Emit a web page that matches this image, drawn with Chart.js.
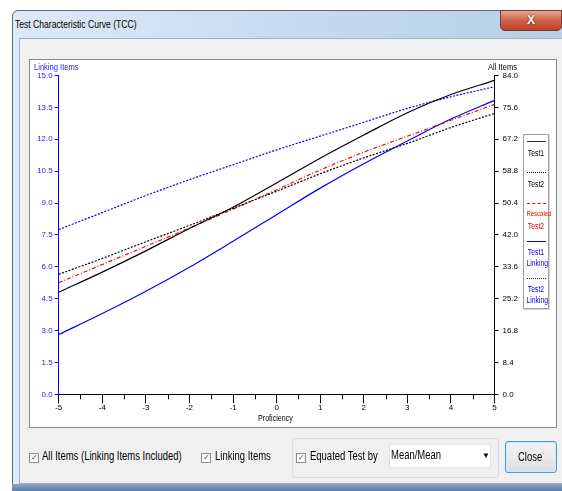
<!DOCTYPE html>
<html>
<head>
<meta charset="utf-8">
<script src="https://cdn.jsdelivr.net/npm/chart.js@4.4.1/dist/chart.umd.min.js"></script>
<style>
  body { margin: 0; width: 562px; height: 491px; background: #fff; overflow: hidden; position: relative;
         font-family: "Liberation Sans", Arial, sans-serif; }
  .abs { position: absolute; }
  #win { left: 12px; top: 10px; width: 560px; height: 481px; border: 1px solid #5a6a7e; border-radius: 6px 6px 0 0;
         background: linear-gradient(to right, #dde9f6, #c3d8ee 60%, #b7cfe9); box-sizing: border-box; }
  #title { left: 15px; top: 18px; font-size: 11px; color: #000; transform: scaleX(0.78); transform-origin: left top; white-space: nowrap; }
  #closeX { left: 500px; top: 10px; width: 62px; height: 21px; border-radius: 0 0 5px 5px;
            background: linear-gradient(#e8a793, #d0644a 50%, #c1402a); border: 1px solid #7a3a30; box-sizing: border-box;
            color: #fff; font: bold 12px "Liberation Sans", Arial; text-align: center; line-height: 19px;
            text-shadow: 0 0 2px #400; }
  #client { left: 19px; top: 38px; width: 545px; height: 446px; background: #f0f0f0; border: 1px solid #9fb2c8; box-sizing: border-box; }
  #bottomStrip { left: 12px; top: 484px; width: 550px; height: 7px; background: linear-gradient(#8aa6c6, #5c7ea6); }
  #panel { left: 29px; top: 59px; width: 528px; height: 369px; background: #fff; border: 1px solid #8a8a8a; box-sizing: border-box; }
  #chartCanvas { position: absolute; left: 29px; top: 59px; }
  .axtitle { font-size: 9px; white-space: nowrap; transform: scaleX(0.84); transform-origin: left top; }
  #legend { left: 523px; top: 134px; width: 26px; height: 175px; background: #fff; border: 1px solid #a0a0a0;
            box-shadow: 1px 1px 0 #d8d8d8; box-sizing: border-box; }
  .lg { position: absolute; left: 0; width: 24px; text-align: center; font-size: 8.5px; line-height: 10px; white-space: nowrap;
        transform: scaleX(0.8); transform-origin: center top; }
  .sw { position: absolute; left: 3px; width: 19px; height: 0; }
  .cb { position: absolute; width: 10px; height: 10px; border: 1px solid #8f8f8f; background: linear-gradient(#f0f0f0, #fff);
        box-sizing: border-box; font: 8px "Liberation Sans", Arial; color: #3c5a8c; line-height: 8px; text-align: center; }
  .ctl { position: absolute; font-size: 12px; color: #000; white-space: nowrap; transform: scaleX(0.79); transform-origin: left top; }
  #group { left: 292px; top: 438px; width: 207px; height: 40px; border: 1px solid #d5dde5; border-radius: 3px; box-sizing: border-box; }
  #combo { left: 389px; top: 444px; width: 102px; height: 24px; background: #fff; border: 1px solid #e2e2e2; box-sizing: border-box; }
  #closeBtn { left: 505px; top: 441px; width: 52px; height: 32px; border: 1px solid #3c9fd8; border-radius: 3px; box-sizing: border-box;
              background: linear-gradient(#f2f2f2, #ebebeb 50%, #dcdcdc); box-shadow: inset 0 0 0 1px #c9ecfb; }
</style>
</head>
<body>
<div id="win" class="abs"></div>
<div id="title" class="abs">Test Characteristic Curve (TCC)</div>
<div id="closeX" class="abs">X</div>
<div id="client" class="abs"></div>
<div id="bottomStrip" class="abs"></div>
<div id="panel" class="abs"></div>
<canvas id="chartCanvas" width="528" height="369"></canvas>

<div class="abs axtitle" style="left:34px;top:62px;color:#2323ff;">Linking Items</div>
<div class="abs axtitle" style="left:488px;top:62px;color:#000;">All Items</div>
<div class="abs axtitle" style="left:258px;top:413px;color:#000;font-size:8.5px;">Proficiency</div>

<div id="legend" class="abs">
  <div class="sw" style="top:6px;border-top:1.5px solid #333;"></div>
  <div class="lg" style="top:13px;color:#000;">Test1</div>
  <div class="sw" style="top:37px;border-top:1px dotted #000;"></div>
  <div class="lg" style="top:44px;color:#000;">Test2</div>
  <div class="sw" style="top:68px;border-top:1px dashed #ff0000;"></div>
  <div class="lg" style="top:74px;color:#ff0000;font-size:7.5px;">Rescaled</div>
  <div class="lg" style="top:86px;color:#ff0000;">Test2</div>
  <div class="sw" style="top:106px;border-top:1.5px solid #0000ff;"></div>
  <div class="lg" style="top:112px;color:#0000ff;">Test1</div>
  <div class="lg" style="top:123px;color:#0000ff;">Linking</div>
  <div class="sw" style="top:143px;border-top:1px dotted #0000ff;"></div>
  <div class="lg" style="top:149px;color:#0000ff;">Test2</div>
  <div class="lg" style="top:160px;color:#0000ff;">Linking</div>
</div>

<div class="cb" style="left:29px;top:453px;">&#10003;</div>
<div class="ctl" style="left:42px;top:449px;">All Items (Linking Items Included)</div>
<div class="cb" style="left:201px;top:453px;">&#10003;</div>
<div class="ctl" style="left:215px;top:449px;">Linking Items</div>
<div id="group" class="abs"></div>
<div class="cb" style="left:296px;top:453px;">&#10003;</div>
<div class="ctl" style="left:310px;top:449px;">Equated Test by</div>
<div id="combo" class="abs"></div>
<div class="ctl" style="left:391px;top:448px;">Mean/Mean</div>
<div class="ctl" style="left:482px;top:451px;font-size:8px;transform:none;">&#9660;</div>
<div id="closeBtn" class="abs"></div>
<div class="ctl" style="left:518px;top:450px;">Close</div>

<script>
// Proficiency (theta) points
const theta = [-5, -4, -3, -2, -1, 0, 1, 2, 3, 4, 5];

// All Items curves (right axis, 0 - 84)
const test1 = [26.9, 32.2, 37.8, 43.7, 49.3, 55.7, 62.2, 68.3, 74.2, 79.0, 82.7];
const test2 = [31.6, 35.8, 40.2, 44.5, 49.0, 53.5, 58.1, 62.3, 66.1, 70.3, 74.0];
const rescaledTest2 = [29.4, 34.2, 39.0, 43.8, 48.8, 53.9, 59.1, 63.8, 68.0, 72.2, 76.4];

// Linking Items curves (left axis, 0 - 15)
const test1Linking = [2.81, 3.80, 4.85, 5.98, 7.20, 8.45, 9.70, 10.85, 11.92, 12.95, 13.83];
const test2Linking = [7.75, 8.55, 9.35, 10.10, 10.80, 11.50, 12.15, 12.80, 13.45, 14.00, 14.47];

// tick labels
const xTicks = [-5, -4, -3, -2, -1, 0, 1, 2, 3, 4, 5];
const xMinorTicks = [-4.5, -3.5, -2.5, -1.5, -0.5, 0.5, 1.5, 2.5, 3.5, 4.5];
const leftTicks = [0, 1.5, 3, 4.5, 6, 7.5, 9, 10.5, 12, 13.5, 15];
const rightTicks = [0, 8.4, 16.8, 25.2, 33.6, 42, 50.4, 58.8, 67.2, 75.6, 84];

function pts(arr) {
    return theta.map((t, i) => ({ x: t, y: arr[i] }));
}

const tickFont = { family: "'Liberation Sans', Arial, sans-serif", size: 8 };

// petites graduations entre les entiers
const minorTickPlugin = {
    id: 'minorTicks',
    afterDraw(chart) {
        const xs = chart.scales.x;
        const c = chart.ctx;
        c.save();
        c.strokeStyle = '#000';
        c.lineWidth = 1;
        xMinorTicks.forEach(v => {
            const px = Math.round(xs.getPixelForValue(v)) + 0.5;
            c.beginPath();
            c.moveTo(px, chart.chartArea.bottom);
            c.lineTo(px, chart.chartArea.bottom + 5);
            c.stroke();
        });
        c.restore();
    }
};

const ctx = document.getElementById('chartCanvas').getContext('2d');
const tccChart = new Chart(ctx, {
    type: 'line',
    data: {
        datasets: [{
            label: 'Test1',
            data: pts(test1),
            yAxisID: 'y1',
            borderColor: '#000000',
            borderWidth: 1.2
        }, {
            label: 'Test2',
            data: pts(test2),
            yAxisID: 'y1',
            borderColor: '#000000',
            borderWidth: 1.2,
            borderDash: [2, 1.5]
        }, {
            label: 'Rescaled Test2',
            data: pts(rescaledTest2),
            yAxisID: 'y1',
            borderColor: '#ff0000',
            borderWidth: 1.2,
            borderDash: [4, 2, 1, 2]
        }, {
            label: 'Test1 Linking',
            data: pts(test1Linking),
            yAxisID: 'y',
            borderColor: '#0000ff',
            borderWidth: 1.2
        }, {
            label: 'Test2 Linking',
            data: pts(test2Linking),
            yAxisID: 'y',
            borderColor: '#0000ff',
            borderWidth: 1.2,
            borderDash: [2, 1.5]
        }]
    },
    options: {
        responsive: false,
        animation: false,
        layout: { padding: { top: 16.5, left: 0, right: 0, bottom: 0 } },
        elements: {
            point: { radius: 0 },
            line: { tension: 0.35, cubicInterpolationMode: 'monotone', fill: false }
        },
        plugins: { legend: { display: false }, tooltip: { enabled: false } },
        scales: {
            x: {
                type: 'linear',
                position: 'bottom',
                min: -5,
                max: 5,
                afterBuildTicks: s => { s.ticks = xTicks.map(v => ({ value: v })); },
                afterFit: s => { s.height = 33.7; },
                ticks: { color: '#000', font: tickFont, padding: 0, maxRotation: 0 },
                grid: { drawOnChartArea: false, tickLength: 9, color: '#000' },
                border: { color: '#000' }
            },
            y: {
                position: 'left',
                min: 0,
                max: 15,
                afterBuildTicks: s => { s.ticks = leftTicks.map(v => ({ value: v })); },
                afterFit: s => { s.width = 29.7; },
                ticks: { color: '#2323ff', font: tickFont, padding: 2, callback: v => v.toFixed(1) },
                grid: { drawOnChartArea: false, tickLength: 4, color: '#0000ff' },
                border: { color: '#0000ff' }
            },
            y1: {
                position: 'right',
                min: 0,
                max: 84,
                afterBuildTicks: s => { s.ticks = rightTicks.map(v => ({ value: v })); },
                afterFit: s => { s.width = 62.5; },
                ticks: { color: '#000', font: tickFont, padding: 4, callback: v => v.toFixed(1) },
                grid: { drawOnChartArea: false, tickLength: 4, color: '#000' },
                border: { color: '#000' }
            }
        }
    },
    plugins: [minorTickPlugin]
});
</script>
</body>
</html>
